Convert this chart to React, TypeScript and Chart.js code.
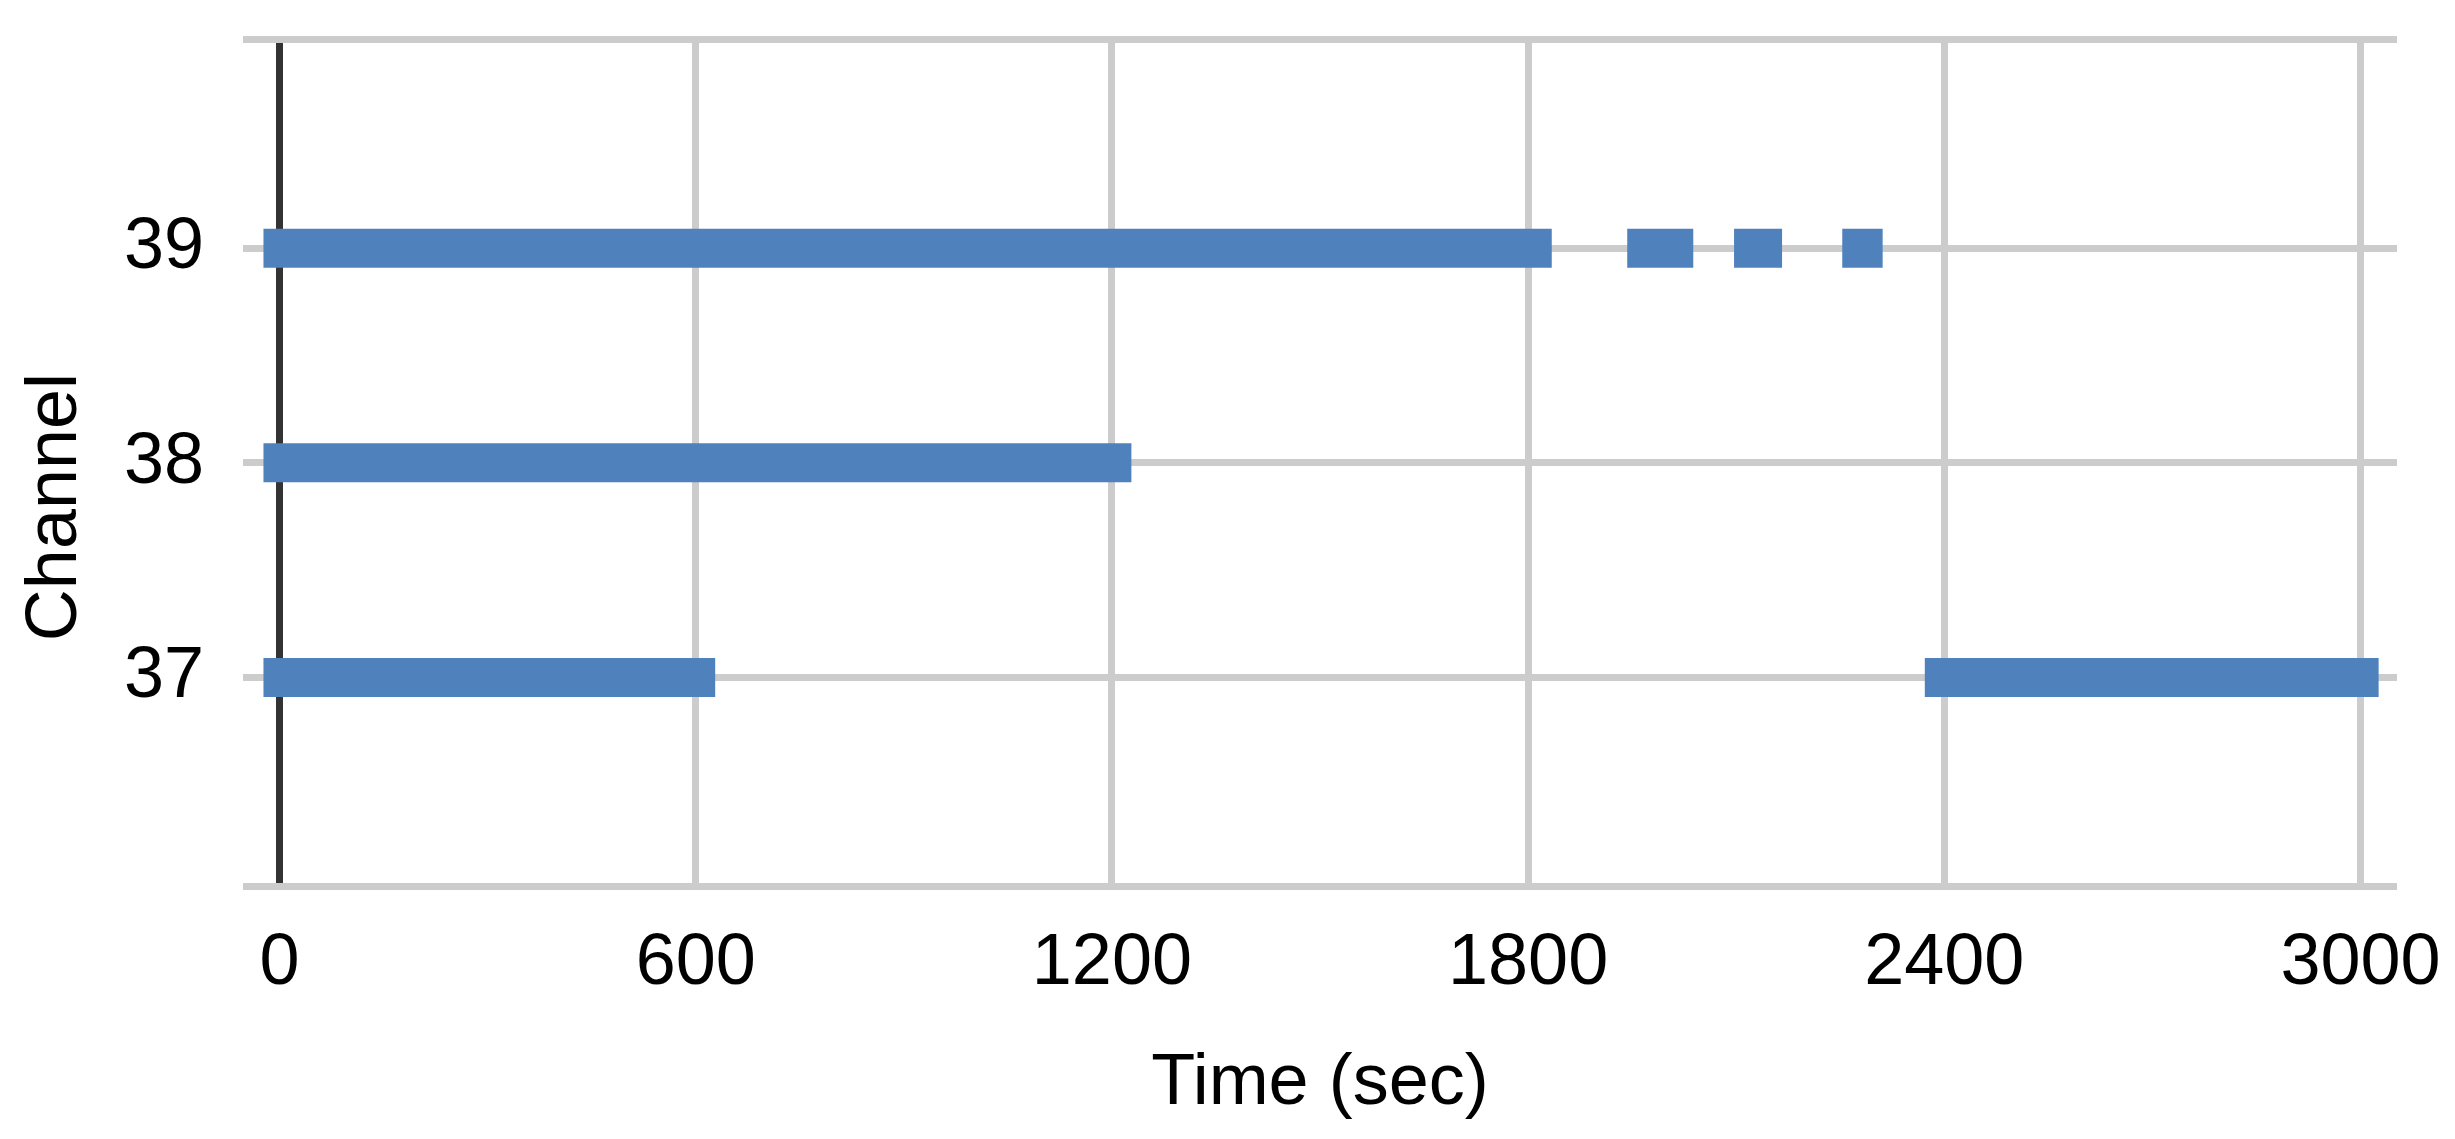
import React, { useEffect, useRef } from "react";
import { Chart, registerables } from "chart.js";

Chart.register(...registerables);

// ---- data (seconds) ----
const channels = [37, 38, 39];
const channel37Starts = [5, 2400];
const channel37Ends = [600, 2998];
const channel38Starts = [5];
const channel38Ends = [1200];
const channel39Starts = [5, 1971, 2125, 2281];
const channel39Ends = [1806, 2010, 2138, 2283];

const xTickValues = [0, 600, 1200, 1800, 2400, 3000];
const yTickValues = [37, 38, 39];
const xMin = -52.6;
const xMax = 3052.6;
const yMin = 36.024;
const yMax = 39.974;

const xTitle = "Time (sec)";
const yTitle = "Channel";

// ---- styles ----
const BAR_COLOR = "#4F81BD";
const GRID_COLOR = "#CCCCCC";
const ZERO_COLOR = "#333333";
const FONT_FAMILY = '"Liberation Sans", Arial, Helvetica, sans-serif';
const FONT_SIZE = 72;

const intervals = [
  { channel: channels[0], starts: channel37Starts, ends: channel37Ends },
  { channel: channels[1], starts: channel38Starts, ends: channel38Ends },
  { channel: channels[2], starts: channel39Starts, ends: channel39Ends },
];

const yTitlePlugin = {
  id: "yTitleRotated",
  afterDraw(chart: any) {
    const { ctx, chartArea } = chart;
    ctx.save();
    ctx.font = `${FONT_SIZE}px ${FONT_FAMILY}`;
    ctx.fillStyle = "#000000";
    ctx.textAlign = "center";
    ctx.textBaseline = "middle";
    ctx.translate(chart.scales.y.left + 56, (chartArea.top + chartArea.bottom) / 2 + 44);
    ctx.rotate(-Math.PI / 2);
    ctx.fillText(yTitle, 0, 0);
    ctx.restore();
  },
};

export default function App() {
  const canvasRef = useRef<HTMLCanvasElement | null>(null);

  useEffect(() => {
    const canvas = canvasRef.current;
    if (!canvas) return;

    const datasets = intervals.flatMap(({ channel, starts, ends }) =>
      starts.map((s, i) => ({
        label: `Channel ${channel}`,
        data: [
          { x: s, y: channel },
          { x: ends[i], y: channel },
        ],
        borderColor: BAR_COLOR,
        backgroundColor: BAR_COLOR,
        borderWidth: 39,
        borderCapStyle: "square" as const,
        pointRadius: 0,
        pointHoverRadius: 0,
        fill: false,
        tension: 0,
      }))
    );

    const chart = new Chart(canvas, {
      type: "line",
      data: { datasets },
      options: {
        animation: false,
        responsive: false,
        devicePixelRatio: 1,
        layout: { padding: { left: 0, right: 58, top: 39.3, bottom: 0 } },
        plugins: { legend: { display: false }, tooltip: { enabled: false } },
        scales: {
          x: {
            type: "linear",
            min: xMin,
            max: xMax,
            afterBuildTicks: (scale: any) => {
              scale.ticks = xTickValues.map((value) => ({ value }));
            },
            ticks: {
              padding: 0,
              color: "#000000",
              font: { family: FONT_FAMILY, size: FONT_SIZE, lineHeight: 1.2 },
              callback: (v: any) => String(v),
              maxRotation: 0,
              autoSkip: false,
            },
            grid: {
              color: (ctx: any) => (ctx.tick && ctx.tick.value === 0 ? ZERO_COLOR : GRID_COLOR),
              lineWidth: 7,
              drawTicks: true,
              tickLength: 34,
              tickColor: "rgba(0,0,0,0)",
            },
            border: { display: false },
            title: {
              display: true,
              text: xTitle,
              color: "#000000",
              font: { family: FONT_FAMILY, size: FONT_SIZE, lineHeight: 1.2 },
              padding: { top: 33.6, bottom: 11.8 },
            },
          },
          y: {
            type: "linear",
            min: yMin,
            max: yMax,
            afterBuildTicks: (scale: any) => {
              scale.ticks = [yMin, ...yTickValues, yMax].map((value) => ({ value }));
            },
            afterFit: (scale: any) => {
              scale.width = 243;
            },
            ticks: {
              padding: 0,
              color: "#000000",
              font: { family: FONT_FAMILY, size: FONT_SIZE, lineHeight: 1.0 },
              callback: (v: any) => (yTickValues.includes(Number(v)) ? String(v) : ""),
              autoSkip: false,
            },
            grid: {
              color: GRID_COLOR,
              lineWidth: 7,
              drawTicks: true,
              tickLength: 39,
              tickColor: "rgba(0,0,0,0)",
            },
            border: { display: false },
            title: { display: false },
          },
        },
      },
      plugins: [yTitlePlugin],
    });

    return () => chart.destroy();
  }, []);

  return (
    <div style={{ position: "fixed", left: 0, top: 0, width: 2455, height: 1139, background: "#ffffff" }}>
      <canvas ref={canvasRef} width={2455} height={1139} style={{ display: "block" }} />
    </div>
  );
}
